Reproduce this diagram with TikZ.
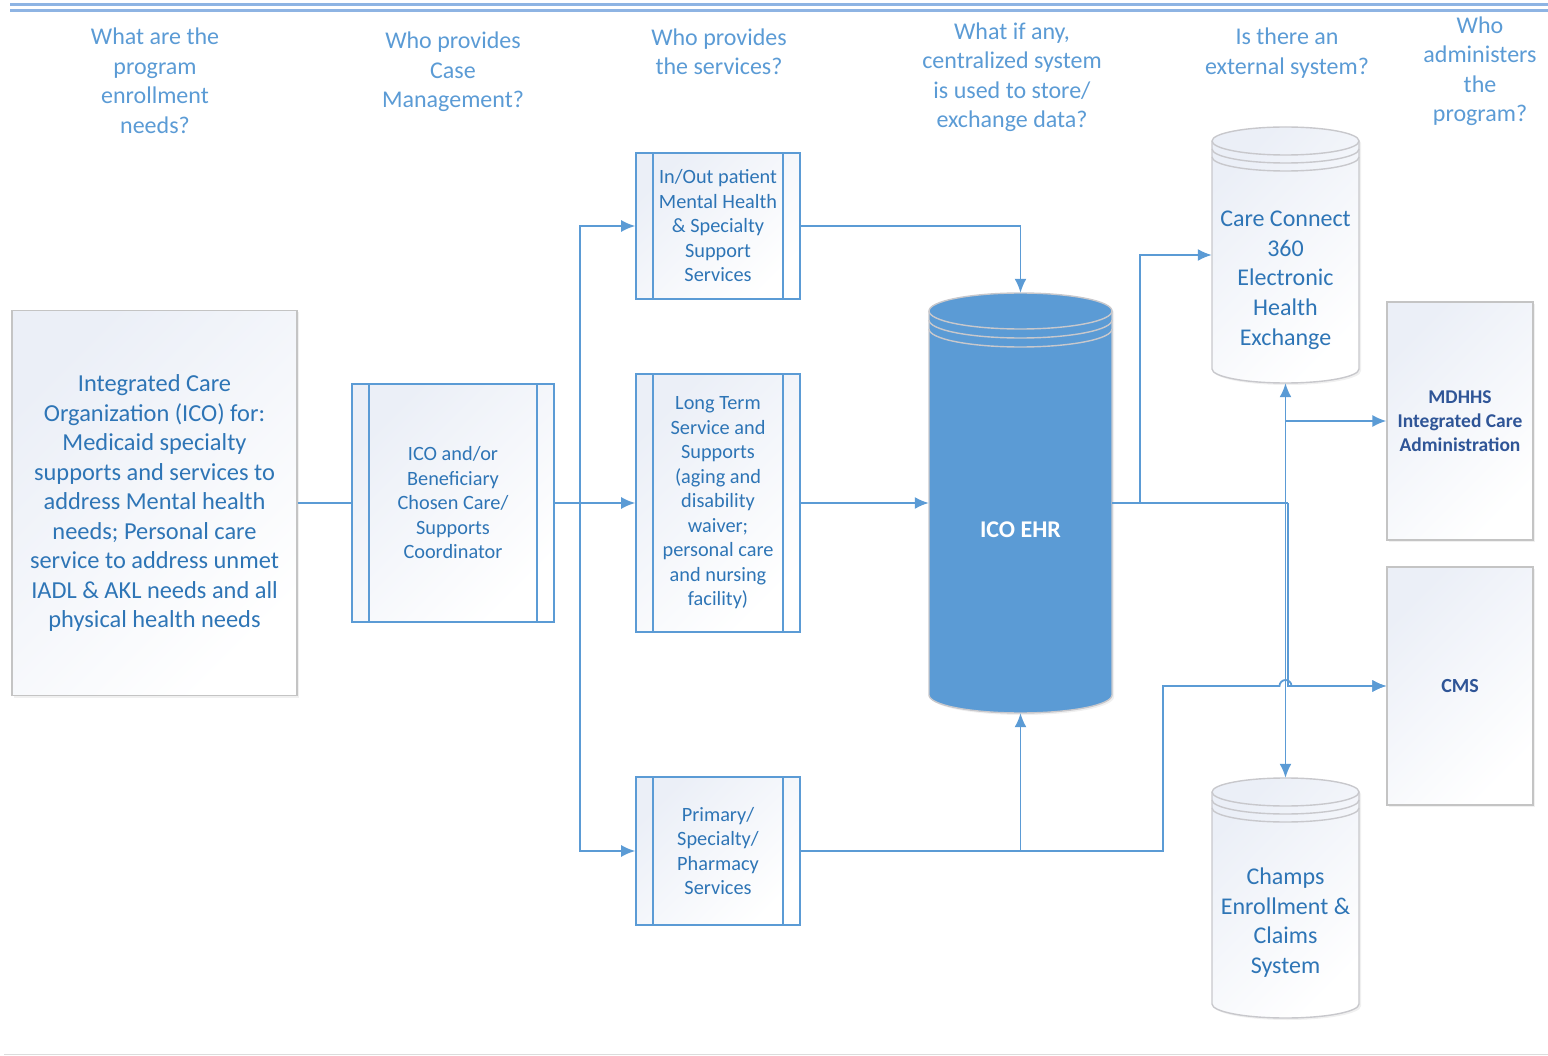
\documentclass[tikz,border=0pt]{standalone}
\usepackage{fontspec}
\setmainfont{Carlito}
\usetikzlibrary{arrows.meta,shadows}

\definecolor{lineblue}{RGB}{91,155,213}
\definecolor{qblue}{RGB}{91,155,213}
\definecolor{tblue}{RGB}{46,117,182}
\definecolor{dblue}{RGB}{47,85,151}
\definecolor{boxgray}{RGB}{196,196,196}
\definecolor{boxtint}{RGB}{235,239,247}
\definecolor{rimgray}{RGB}{200,200,204}
\definecolor{topline}{RGB}{142,180,227}

% drum: cx, top, bottom, rx, ry, ring gap, fill style
\newcommand{\drum}[7]{%
  \path[#7,draw=rimgray,line width=1.4pt] ({#1-#4},{#2+#5}) -- ({#1-#4},{#3-#5})
    arc[start angle=180,end angle=360,x radius=#4pt,y radius=#5pt] -- ({#1+#4},{#2+#5})
    arc[start angle=0,end angle=180,x radius=#4pt,y radius=#5pt] -- cycle;
  \foreach \g in {0,1,2}
    \draw[rimgray,line width=1.4pt] ({#1-#4},{#2+#5+\g*#6})
      arc[start angle=180,end angle=360,x radius=#4pt,y radius=#5pt];
}

\begin{document}
\begin{tikzpicture}[x=1pt,y=-1pt]
  \tikzstyle{question}=[text=qblue,align=center,inner sep=0pt,font=\fontsize{24}{29.5}\selectfont]
  \tikzstyle{plainbox}=[draw=boxgray,line width=1.2pt,top color=boxtint,bottom color=white,shading angle=45,
    drop shadow={opacity=0.12,shadow xshift=2pt,shadow yshift=-2pt},align=center]
  \tikzstyle{procbox}=[draw=lineblue,line width=1.6pt,top color=boxtint,bottom color=white,shading angle=45,
    text=tblue,align=center,font=\fontsize{20.3}{24.5}\selectfont]
  \tikzstyle{drumbox}=[inner sep=0pt,minimum width=0pt]
  \tikzstyle{drumtext}=[text=tblue,align=center,inner sep=0pt,font=\fontsize{24}{29.7}\selectfont]
  \tikzstyle{procline}=[draw=lineblue,line width=1.6pt]
  \tikzstyle{conn}=[draw=lineblue,line width=1.8pt]
  \tikzstyle{arr}=[conn,-{Latex[length=14pt,width=12pt]}]

  \useasboundingbox (0,0) rectangle (1548,1056);

  % header and footer rules
  \draw[topline,line width=3pt] (10,5) -- (1548,5) (10,11) -- (1548,11);
  \draw[boxgray!60,line width=1pt] (4,1054) -- (1548,1054);

  % questions
  \node[question] (q1) at (155,81) {What are the\\program\\enrollment\\needs?};
  \node[question] (q2) at (453,72) {Who provides\\Case\\Management?};
  \node[question] (q3) at (719,52) {Who provides\\the services?};
  \node[question] (q4) at (1012,77) {What if any,\\centralized system\\is used to store/\\exchange data?};
  \node[question] (q5) at (1287,53) {Is there an\\external system?};
  \node[question] (q6) at (1480,71) {Who\\administers\\the\\program?};

  % boxes
  \node[plainbox,minimum width=285pt,minimum height=385pt,text=tblue,font=\fontsize{24.4}{29.5}\selectfont]
    (ico) at (154.5,503) {Integrated Care\\Organization (ICO) for:\\Medicaid specialty\\supports and services to\\address Mental health\\needs; Personal care\\service to address unmet\\IADL \& AKL needs and all\\physical health needs};
  \node[procbox,minimum width=202pt,minimum height=238pt] (cm) at (453,503)
    {ICO and/or\\Beneficiary\\Chosen Care/\\Supports\\Coordinator};
  \node[procbox,minimum width=164pt,minimum height=146pt] (inout) at (718,226)
    {In/Out patient\\Mental Health\\\& Specialty\\Support\\Services};
  \node[procbox,minimum width=164pt,minimum height=258pt] (ltss) at (718,503)
    {Long Term\\Service and\\Supports\\(aging and\\disability\\waiver;\\personal care\\and nursing\\facility)};
  \node[procbox,minimum width=164pt,minimum height=148pt] (prim) at (718,851)
    {Primary/\\Specialty/\\Pharmacy\\Services};
  \foreach \b in {cm,inout,ltss,prim}
    \draw[procline] ([xshift=18pt]\b.north west) -- ([xshift=18pt]\b.south west)
                    ([xshift=-18pt]\b.north east) -- ([xshift=-18pt]\b.south east);

  \node[plainbox,minimum width=146pt,minimum height=238pt,text=dblue,font=\bfseries\fontsize{19.5}{24}\selectfont]
    (mdhhs) at (1460,421) {MDHHS\\Integrated Care\\Administration};
  \node[plainbox,minimum width=146pt,minimum height=238pt,text=dblue,font=\bfseries\fontsize{20}{24}\selectfont]
    (cms) at (1460,686) {CMS};

  % data stores
  \drum{1020.5}{293}{713}{91.5}{18}{9}{fill=lineblue,drop shadow={opacity=0.12,shadow xshift=2pt,shadow yshift=-2pt}}
  \node[drumbox,minimum width=183pt,minimum height=420pt] (ehr) at (1020.5,503) {};
  \node[text=white,inner sep=0pt,font=\bfseries\fontsize{24}{28}\selectfont] (ehrtxt) at (1020.5,530) {ICO EHR};
  \drum{1285.5}{127}{383}{73.5}{14}{8}{top color=boxtint,bottom color=white,shading angle=45,drop shadow={opacity=0.12,shadow xshift=2pt,shadow yshift=-2pt}}
  \node[drumbox,minimum width=147pt,minimum height=256pt] (cc360) at (1285.5,255) {};
  \node[drumtext] (cc360txt) at (1285.5,280) {Care Connect\\360\\Electronic\\Health\\Exchange};
  \drum{1285.5}{778}{1018}{73.5}{14}{8}{top color=boxtint,bottom color=white,shading angle=45,drop shadow={opacity=0.12,shadow xshift=2pt,shadow yshift=-2pt}}
  \node[drumbox,minimum width=147pt,minimum height=240pt] (champs) at (1285.5,898) {};
  \node[drumtext] (champstxt) at (1285.5,922.5) {Champs\\Enrollment \&\\Claims\\System};

  % connectors
  \coordinate (split) at (580,503);
  \coordinate (j1) at (1140,503);
  \coordinate (j2) at (1288,503);
  \coordinate (pbend) at (1163,851);

  \draw[conn] (ico.east) -- (cm.west);
  \draw[conn] (cm.east) -- (split);
  \draw[arr] (split) -- (ltss.west);
  \draw[arr] (split) |- (inout.west);
  \draw[arr] (split) |- (prim.west);

  \draw[arr] (inout.east) -| (ehr.north);
  \draw[arr] (ltss.east) -- (ehr.west);
  \draw[arr] (prim.east) -| (ehr.south);

  \draw[conn] (ehr.east) -- (j2);
  \draw[arr] (j1) |- (cc360.west);
  \draw[arr] (j2) |- (cms.west);
  \draw[arr,{Latex[length=14pt,width=12pt]}-{Latex[length=14pt,width=12pt]}] (cc360.south) -- (champs.north);
  \draw[arr] (cc360.south |- mdhhs.west) -- (mdhhs.west);
  \draw[arr] (ehr.south |- prim.east) -- (pbend) -- (pbend |- cms.west) -- (1279.5,686)
    arc[start angle=180,end angle=0,radius=6pt] -- (cms.west);
\end{tikzpicture}
\end{document}
